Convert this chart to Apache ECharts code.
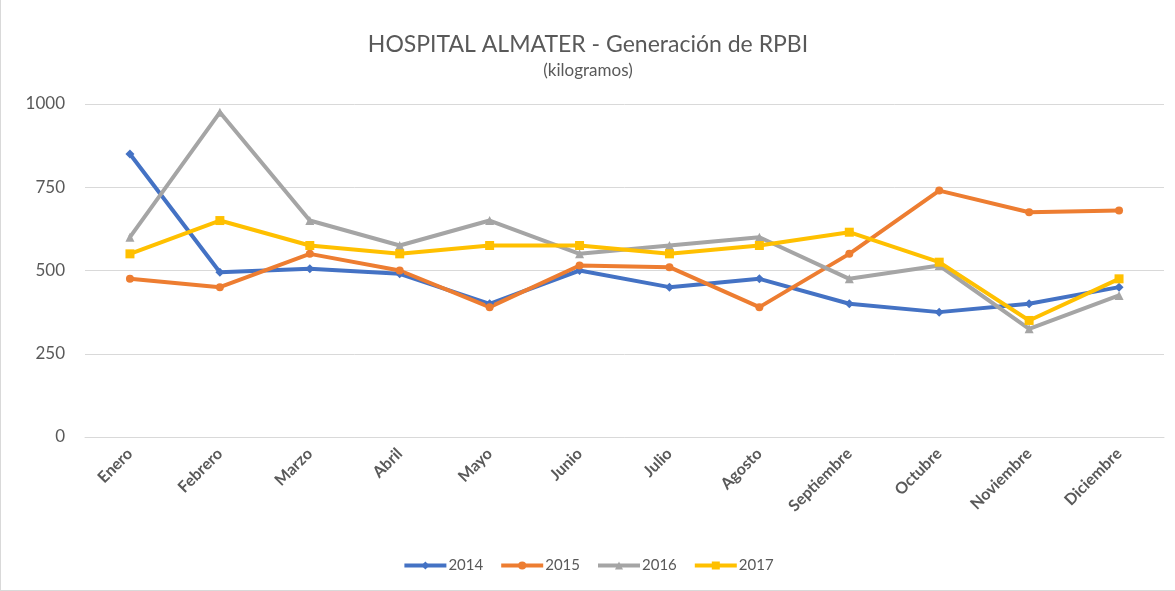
<!DOCTYPE html>
<html>
<head>
<meta charset="utf-8">
<script src="https://cdn.jsdelivr.net/npm/echarts@6/dist/echarts.min.js"></script>
<style>
  html, body { margin: 0; padding: 0; background: #fff; }
  #chart { width: 1175px; height: 591px; box-sizing: border-box; border: 1px solid #d9d9d9; border-right: none; border-top: none; }
</style>
</head>
<body>
<div id="chart"></div>
<script>
// meses y kilos por año
var meses = ['Enero', 'Febrero', 'Marzo', 'Abril', 'Mayo', 'Junio', 'Julio', 'Agosto', 'Septiembre', 'Octubre', 'Noviembre', 'Diciembre'];
var kg2014 = [850, 495, 505, 490, 400, 500, 450, 475, 400, 375, 400, 450];
var kg2015 = [475, 450, 550, 500, 390, 515, 510, 390, 550, 740, 675, 680];
var kg2016 = [600, 975, 650, 575, 650, 550, 575, 600, 475, 515, 325, 425];
var kg2017 = [550, 650, 575, 550, 575, 575, 550, 575, 615, 525, 350, 475];
var yTicks = [0, 250, 500, 750, 1000];

var fuente = 'Lato, "Open Sans", sans-serif';

function serie(nombre, datos, color, simbolo, tam) {
  return {
    name: nombre,
    type: 'line',
    data: datos,
    symbol: simbolo,
    symbolSize: tam,
    showAllSymbol: true,
    lineStyle: { width: 4, color: color },
    itemStyle: { color: color },
    emphasis: { disabled: true }
  };
}

var chart = echarts.init(document.getElementById('chart'));
var option = {
  animation: false,
  title: {
    text: 'HOSPITAL ALMATER - Generación de RPBI',
    subtext: '(kilogramos)',
    left: 'center',
    top: 28,
    itemGap: 6,
    textStyle: { fontFamily: fuente, fontSize: 23, fontWeight: 'normal', color: '#595959' },
    subtextStyle: { fontFamily: fuente, fontSize: 17, color: '#595959' }
  },
  legend: {
    bottom: 12,
    left: 'center',
    itemWidth: 42,
    itemHeight: 10,
    itemGap: 16,
    textStyle: { fontFamily: fuente, fontSize: 15, color: '#595959', padding: [0, 0, 0, -3] },
    lineStyle: { width: 4 },
    data: ['2014', '2015', '2016', '2017']
  },
  grid: { left: 84, right: 11, top: 104, bottom: 153 },
  xAxis: {
    type: 'category',
    data: meses,
    boundaryGap: true,
    axisLine: { lineStyle: { color: '#d9d9d9' } },
    axisTick: { show: false },
    axisLabel: {
      rotate: 45,
      interval: 0,
      margin: 14,
      fontFamily: fuente,
      fontSize: 16,
      fontWeight: 'bold',
      color: '#595959'
    }
  },
  yAxis: {
    type: 'value',
    min: yTicks[0],
    max: yTicks[yTicks.length - 1],
    interval: 250,
    axisLine: { show: false },
    axisTick: { show: false },
    splitLine: { lineStyle: { color: '#d9d9d9' } },
    axisLabel: {
      fontFamily: fuente,
      fontSize: 17,
      color: '#595959',
      margin: 20,
      formatter: function (v) { return String(v); }
    }
  },
  series: [
    serie('2014', kg2014, '#4472c4', 'diamond', 9),
    serie('2015', kg2015, '#ed7d31', 'circle', 8),
    serie('2016', kg2016, '#a5a5a5', 'triangle', 9),
    serie('2017', kg2017, '#ffc000', 'rect', 9)
  ]
};
chart.setOption(option);
</script>
</body>
</html>
